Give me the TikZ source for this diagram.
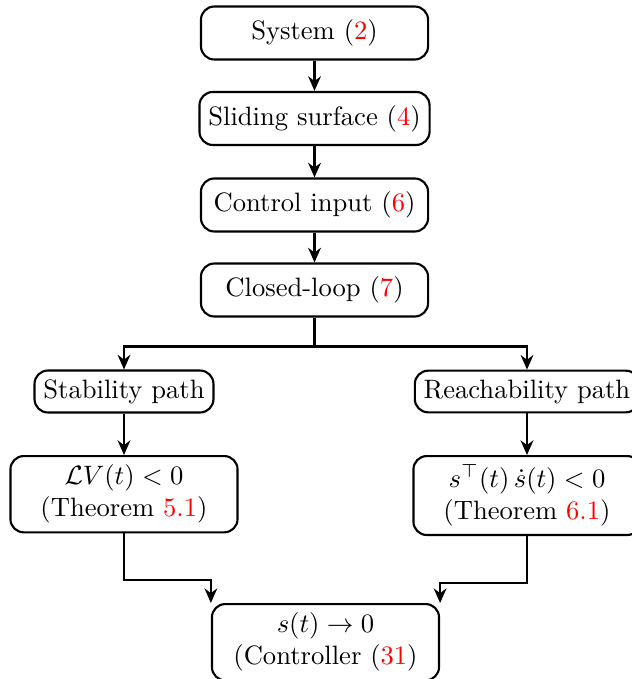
\documentclass[tikz,border=0pt]{standalone}
\usepackage{amssymb}
\usepackage{amsmath}
\usepackage{tikz}
\usetikzlibrary{arrows.meta}

\tikzset{
  block/.style={draw, thick, rounded corners=5pt, minimum width=3cm, minimum height=0.7cm, align=center},
  pathbox/.style={draw, thick, rounded corners=5pt, align=center},
  flow/.style={-{Stealth[length=5.5pt, width=4.8pt]}, thick},
}
\newcommand{\refno}[1]{\textcolor{red}{#1}}

\begin{document}
\begin{tikzpicture}
      \useasboundingbox (0,0) rectangle (8.349,-8.970);

      % main column
      \node[block] (sys) at (4.155,-0.436) {System (\refno{2})};
      \node[block] (surf) at (4.155,-1.565) {Sliding surface (\refno{4})};
      \node[block] (input) at (4.155,-2.708) {Control input (\refno{6})};
      \node[block] (loop) at (4.155,-3.831) {Closed-loop (\refno{7})};

      \draw[flow] (sys)--(surf);
      \draw[flow] (surf)--(input);
      \draw[flow] (input)--(loop);

      % two paths
      \node[pathbox] (stab) at (1.638,-5.172) {Stability path};
      \node[pathbox] (reach) at (6.962,-5.172) {Reachability path};

      \draw[thick] (loop.south)--++(0,-0.383) coordinate (split);
      \draw[flow] (split) -| (stab.north);
      \draw[flow] (split) -| (reach.north);

      \node[block, anchor=north] (lyap) at (1.638,-6.011) {$\mathcal{L}V(t) < 0$\\(Theorem \refno{5.1})};
      \node[block, anchor=north] (reachcond) at (6.962,-6.011) {$s^{\top}(t)\,\dot{s}(t) < 0$\\(Theorem \refno{6.1})};

      \draw[flow] (stab)--(lyap);
      \draw[flow] (reach)--(reachcond);

      % result
      \node[block, anchor=north] (result) at (4.300,-7.966) {$s(t) \to 0$\\(Controller (\refno{31})};

      \draw[flow] (lyap.south)--++(0,-0.61) -| (result.north west);
      \draw[flow] (reachcond.south)--++(0,-0.62) -| (result.north east);
    \end{tikzpicture}
\end{document}
